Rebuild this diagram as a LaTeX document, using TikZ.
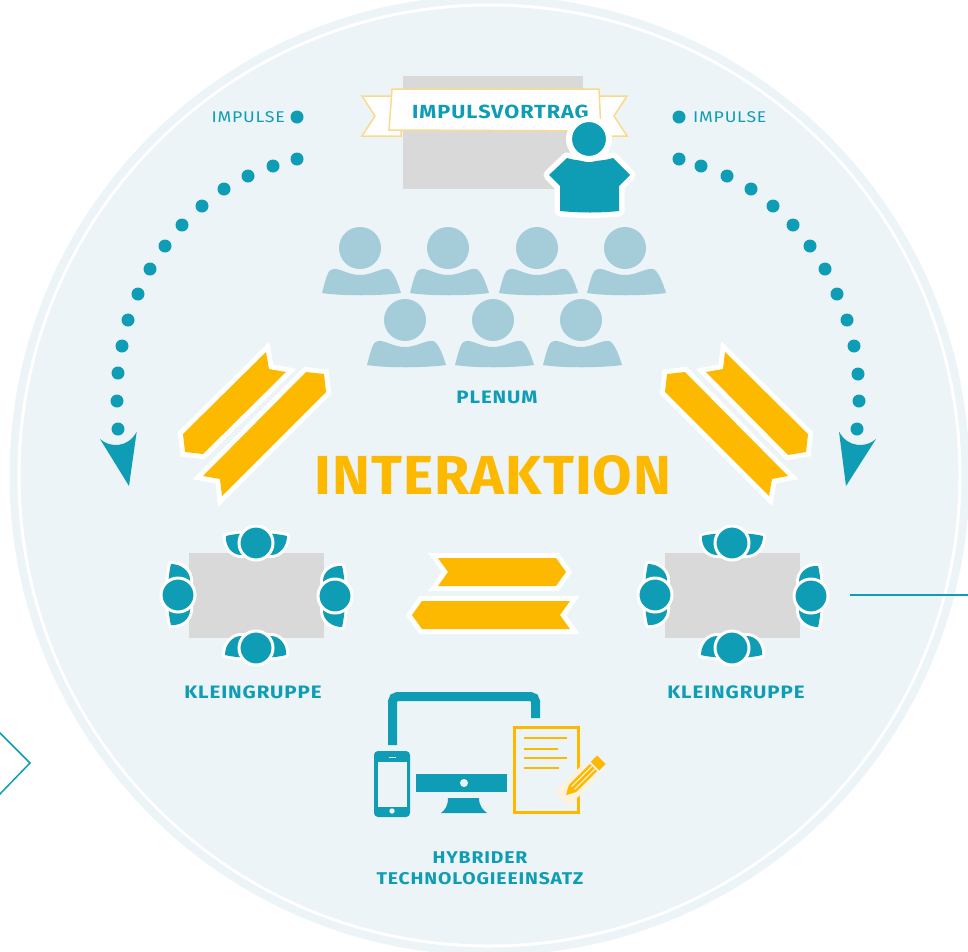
\documentclass[tikz,border=0pt]{standalone}
\usepackage{fontspec}
\setmainfont{Fira Sans}
\newfontfamily\labelfont[FakeStretch=1.14,LetterSpace=5]{Fira Sans}
\newfontfamily\bigfont[FakeStretch=1.04,LetterSpace=2]{Fira Sans}
\definecolor{teal1}{HTML}{0F9DB5}
\definecolor{amber}{HTML}{FDB900}
\definecolor{bgblue}{HTML}{ECF4F8}
\definecolor{tablegray}{HTML}{D9D9D9}
\definecolor{crowd}{HTML}{A5CCD9}
\definecolor{bannerline}{HTML}{FBD98C}
\definecolor{halo}{HTML}{FDF3DC}
\newcommand{\listener}[2]{%
  \begin{scope}[shift={(#1,#2)}]
    \fill[crowd] (0,0) circle (21);
    \fill[crowd] (-38,45) .. controls (-34,30) and (-32,21) .. (-27,21)
      .. controls (-20,20) and (-12,27) .. (0,27)
      .. controls (12,27) and (20,20) .. (28,21)
      .. controls (33,22) and (38,35) .. (41,45)
      .. controls (20,48) and (-20,48) .. cycle;
  \end{scope}}
\newcommand{\seat}[3]{%
  \begin{scope}[shift={(#1,#2)},rotate=#3]
    \path[halofill=6pt]
      (-30,-7) .. controls (-15,-11) and (15,-11) .. (31,-7)
      .. controls (31,3) and (24,12) .. (15,12)
      -- (-15,12) .. controls (-24,12) and (-31,3) .. cycle;
    \filldraw[teal1,draw=white,line width=3pt] (0,0) circle (17);
  \end{scope}}
\tikzset{
  label1/.style={text=teal1,font=\labelfont\fontsize{18}{21}\selectfont\bfseries,inner sep=0pt,align=center},
  labelthin/.style={text=teal1,font=\labelfont\fontsize{15.5}{18}\selectfont,inner sep=0pt},
  halofill/.style={fill=teal1,preaction={draw=white,line width=#1,line join=round}},
  ribbon/.style={fill=amber,preaction={draw=white,line width=10pt,line join=miter}},
  arcdot/.style={fill=teal1},
  band/.style={fill=white,draw=bannerline,line width=1.5pt},
}
\begin{document}
\begin{tikzpicture}[x=1pt,y=-1pt]
\useasboundingbox (0,0) rectangle (968,951);
\begin{scope}
\clip (0,0) rectangle (968,951);
\fill[white] (0,0) rectangle (968,951);
\draw[bgblue,line width=8pt] (489.5,475.5) circle (476);
\fill[bgblue] (489.5,475.5) circle (469);
% gray screen
\fill[tablegray] (403,76) rectangle (583,189);
% banner
\draw[band] (392,96) -- (362,96) -- (375,116) -- (362,136) -- (401,136) -- (401,125) -- cycle;
\draw[band] (599,96) -- (627,96) -- (614,116) -- (627,136) -- (590,136) -- (590,125) -- cycle;
\draw[band] (392,89) -- (599,89) -- (601,131) -- (389,130) -- cycle;
\node[text=teal1,font=\labelfont\fontsize{19}{22}\selectfont\bfseries,inner sep=0pt,anchor=west] (banner) at (412,112) {IMPULSVORTRAG};
% speaker
\path[halofill=11pt]
  (549,175) -- (567,158) .. controls (580,162) and (600,162) .. (613,158)
  -- (630,175) -- (619,186) -- (619,211)
  .. controls (600,213) and (580,213) .. (560,211) -- (560,186) -- cycle;
\filldraw[teal1,draw=white,line width=6pt] (589,139) circle (20);
% audience
\foreach \x in {360,448,537,625} {\listener{\x}{248}}
\foreach \x in {405,493,581} {\listener{\x}{320}}
\node[label1] (plenum) at (497,397) {PLENUM};
% impulse
\node[labelthin,anchor=east] (impl) at (285,117) {IMPULSE};
\node[labelthin,anchor=west] (impr) at (693,117) {IMPULSE};
\fill[arcdot] (297,117) circle (6.5);
\fill[arcdot] (679,117) circle (6.5);
\foreach \x/\y in {297/159,273/166,248/176,224/189,202/206,182/225,165/246,150/269,138/294,128/320,122/346,118/373,117/401,118/429,
  679/159,701/166,727/176,751/189,773/206,793/225,810/246,825/269,837/294,847/320,854/346,858/374,859/401,857/429}
  {\fill[arcdot] (\x,\y) circle (6.5);}
\fill[teal1] (100,439) .. controls (110,448) and (128,448) .. (136.7,431.7) -- (129,486) -- cycle;
\fill[teal1] (876,439) .. controls (866,448) and (848,448) .. (839,431.7) -- (846,486) -- cycle;
% ribbons
\path[ribbon] (266,352) -- (269,369) -- (286,372) -- (203,454) -- (185,452) -- (183,434) -- cycle;
\path[ribbon] (306,372) -- (324,374) -- (326,392) -- (222,496) -- (220,479) -- (203,476) -- cycle;
\path[ribbon] (725,352) -- (723,369) -- (706,372) -- (788,455) -- (806,452) -- (808,434) -- cycle;
\path[ribbon] (685,372) -- (667,374) -- (665,392) -- (769,496) -- (772,479) -- (788,476) -- cycle;
\path[ribbon] (438,558) -- (556,558) -- (566,572) -- (556,586) -- (438,586) -- (448,572) -- cycle;
\path[ribbon] (422,601) -- (570,601) -- (560,615) -- (570,629) -- (422,629) -- (412,615) -- cycle;
\node[text=amber,font=\bigfont\fontsize{55}{60}\selectfont\bfseries,inner sep=0pt] (inter) at (493,475) {INTERAKTION};
% tables
\fill[tablegray] (189,553) rectangle (324,638);
\seat{256}{543}{0}\seat{256}{648}{180}\seat{178}{595}{90}\seat{335}{596}{-90}
\fill[tablegray] (665,553) rectangle (800,638);
\seat{732}{543}{0}\seat{732}{648}{180}\seat{655}{595}{90}\seat{811}{596}{-90}
\node[label1] (kl) at (253,692) {KLEINGRUPPE};
\node[label1] (kr) at (736,692) {KLEINGRUPPE};
% technology
\draw[teal1,line width=9pt,rounded corners=5pt] (392.5,745) -- (392.5,696.5) -- (535.5,696.5) -- (535.5,718);
\fill[teal1,rounded corners=4pt] (374,751) rectangle (410,817);
\fill[bgblue] (378,762) rectangle (407,807);
\fill[bgblue] (389,756.5) rectangle (396,758);
\fill[bgblue] (392,811) circle (2.7);
\fill[teal1] (416,774) rectangle (507,792);
\fill[bgblue] (464,783) circle (4);
\fill[teal1] (448,798) -- (479,798) .. controls (479,806) and (483,810) .. (487,813) -- (441,813) .. controls (445,810) and (448,806) .. cycle;
\draw[amber,line width=3pt] (514,727) rectangle (578,812);
\draw[amber,line width=2.5pt] (524,738) -- (567,738) (524,749) -- (558,749) (524,758) -- (567,758) (524,768) -- (559,768);
\begin{scope}[shift={(566,795)},rotate=45]
  \fill[halo] (-6,-10) rectangle (34,10);
  \fill[amber] (0,0) -- (9,-5) -- (39,-5) -- (39,5) -- (9,5) -- cycle;
  \draw[halo,line width=1pt] (10,-2) -- (39,-2) (10,2) -- (39,2);
  \fill[amber] (41,-6) rectangle (50,6);
\end{scope}
\node[label1,font=\labelfont\fontsize{17}{21}\selectfont\bfseries] (hy) at (480,868) {HYBRIDER\\TECHNOLOGIEEINSATZ};
% outside
\coordinate (lineA) at (850,595);
\coordinate (lineB) at (968,595);
\draw[teal1,line width=2pt] (lineA) -- (lineB);
\coordinate (dA) at (-1,732);
\coordinate (dB) at (30,763);
\coordinate (dC) at (-1,795);
\draw[teal1,line width=1.5pt] (dA) -- (dB) -- (dC);
\end{scope}
\end{tikzpicture}
\end{document}
